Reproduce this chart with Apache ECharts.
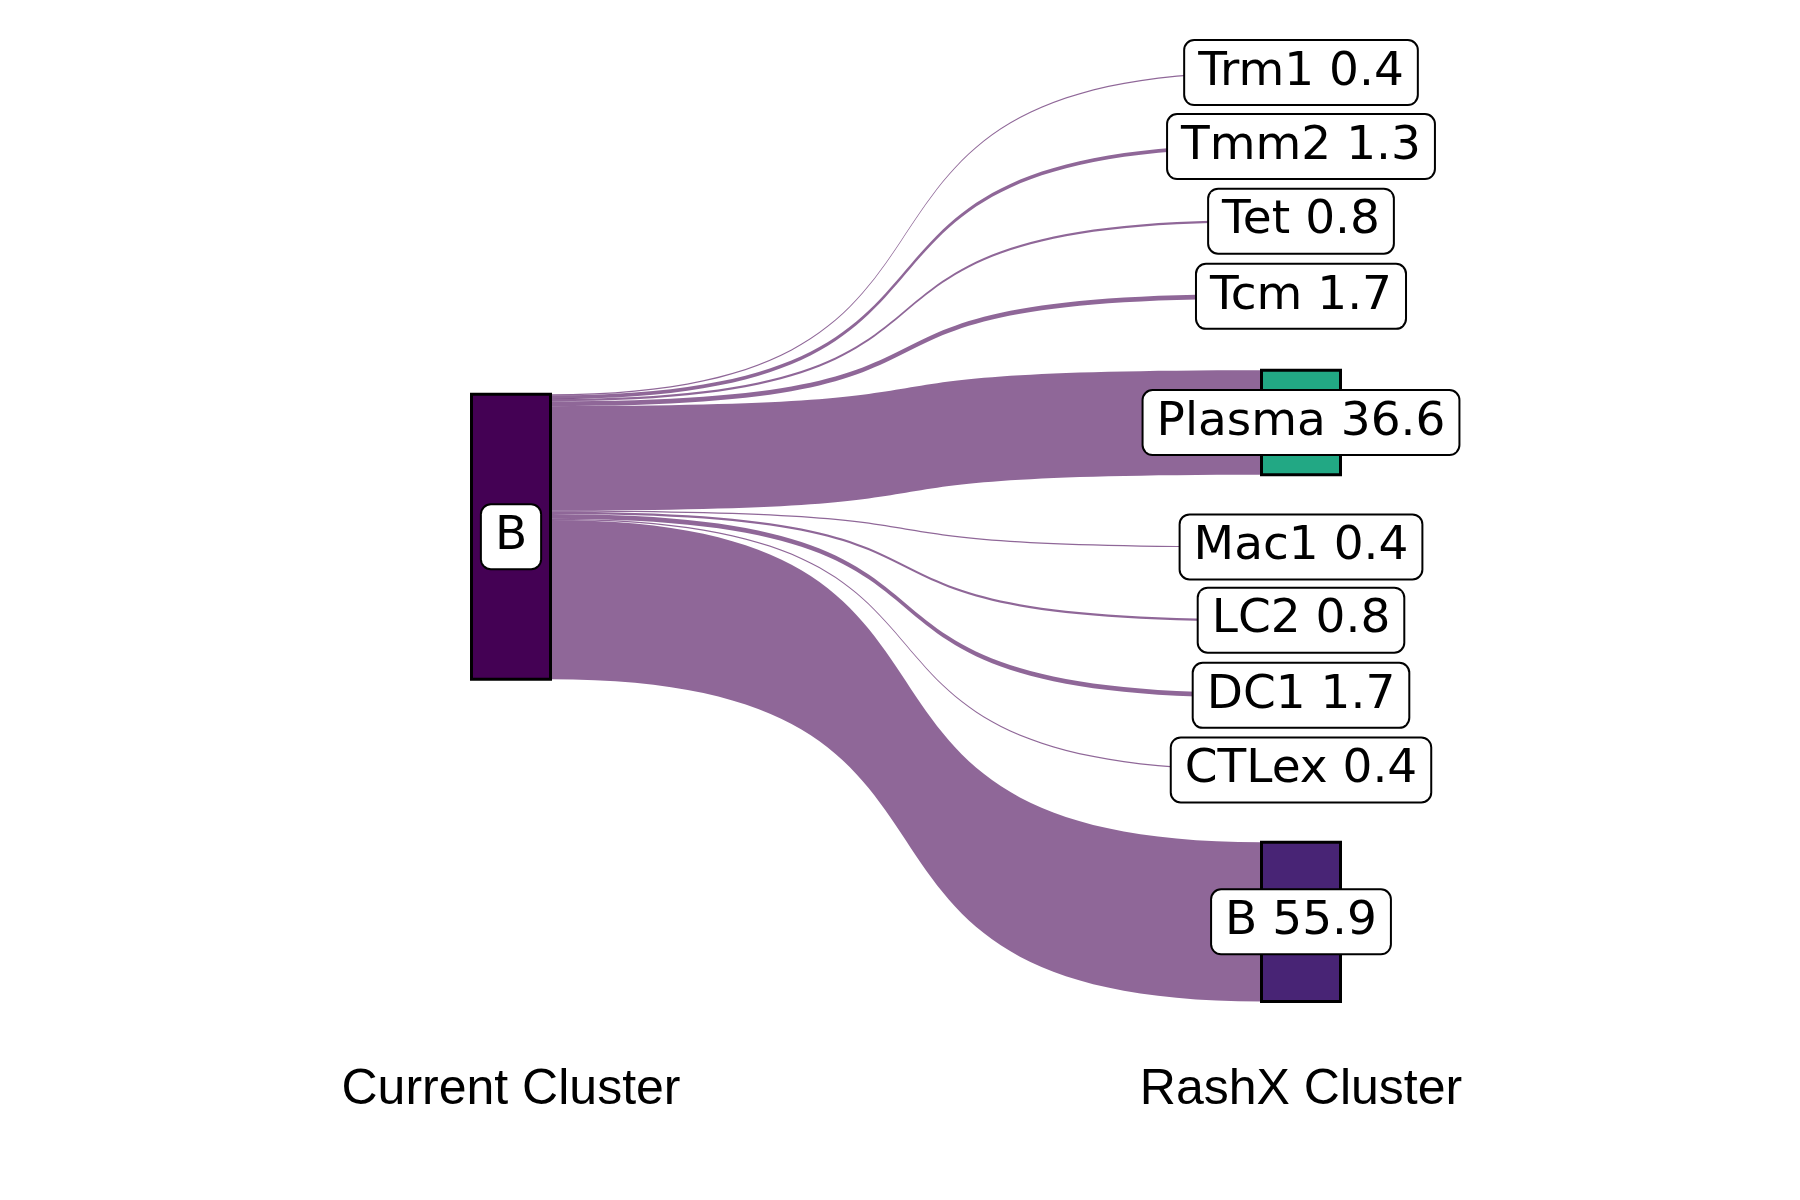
<!DOCTYPE html>
<html>
<head>
<meta charset="utf-8">
<script src="https://cdn.jsdelivr.net/npm/echarts@6/dist/echarts.min.js"></script>
<style>
  html, body { margin: 0; padding: 0; background: #ffffff; }
  #chart { width: 1800px; height: 1200px; }
</style>
</head>
<body>
<div id="chart"></div>
<script>
// ---- data ----
const sourceCluster = 'B';
const targetClusters = ['Trm1', 'Tmm2', 'Tet', 'Tcm', 'Plasma', 'Mac1', 'LC2', 'DC1', 'CTLex', 'B'];
const targetPercent = [0.4, 1.3, 0.8, 1.7, 36.6, 0.4, 0.8, 1.7, 0.4, 55.9];
const axisTitles = ['Current Cluster', 'RashX Cluster'];

// ---- styles ----
const sourceColor = '#440154';
const targetColors = ['#3E4A89', '#31688E', '#26828E', '#1F9E89', '#22A884',
                      '#35B779', '#6DCD59', '#B4DE2C', '#FDE725', '#482475'];

// ---- layout ----
const L = 471.5, T = 72, W = 869, H = 929.5;
const nodeWidth = 79, nodeGap = 71.6;

const total = targetPercent.reduce((a, b) => a + b, 0);
const ky = (H - (targetClusters.length - 1) * nodeGap) / total;
const srcHeight = total * ky;
const srcLocalY = ((H - srcHeight) / 2) / H;

const srcName = 'src_' + sourceCluster;
const nodes = [{
  name: srcName,
  localY: srcLocalY,
  itemStyle: { color: sourceColor },
  label: { formatter: sourceCluster }
}];
targetClusters.forEach((c, i) => {
  nodes.push({
    name: 'dst_' + c,
    itemStyle: { color: targetColors[i] },
    label: { formatter: c + ' ' + targetPercent[i].toFixed(1) }
  });
});
const links = targetClusters.map((c, i) => ({
  source: srcName,
  target: 'dst_' + c,
  value: targetPercent[i]
}));

const chart = echarts.init(document.getElementById('chart'), null, { renderer: 'canvas' });
chart.setOption({
  backgroundColor: '#ffffff',
  animation: false,
  series: [{
    type: 'sankey',
    left: L,
    top: T,
    width: W,
    height: H,
    nodeWidth: nodeWidth,
    nodeGap: nodeGap,
    layoutIterations: 0,
    nodeAlign: 'justify',
    draggable: false,
    emphasis: { disabled: true },
    itemStyle: { borderColor: '#000000', borderWidth: 3 },
    lineStyle: { color: sourceColor, opacity: 0.6, curveness: 0.7 },
    label: {
      show: true,
      position: 'inside',
      fontFamily: 'DejaVu Sans',
      fontSize: 47,
      lineHeight: 51,
      color: '#000000',
      backgroundColor: '#ffffff',
      borderColor: '#000000',
      borderWidth: 2,
      borderRadius: 9,
      padding: [6, 13, 6, 13]
    },
    data: nodes,
    links: links
  }],
  graphic: [
    {
      type: 'text',
      x: L + nodeWidth / 2,
      y: 1090,
      style: {
        text: axisTitles[0],
        fontFamily: 'Liberation Sans',
        fontSize: 50,
        fill: '#000000',
        align: 'center',
        verticalAlign: 'middle'
      }
    },
    {
      type: 'text',
      x: L + W - nodeWidth / 2,
      y: 1090,
      style: {
        text: axisTitles[1],
        fontFamily: 'Liberation Sans',
        fontSize: 50,
        fill: '#000000',
        align: 'center',
        verticalAlign: 'middle'
      }
    }
  ]
});
</script>
</body>
</html>
